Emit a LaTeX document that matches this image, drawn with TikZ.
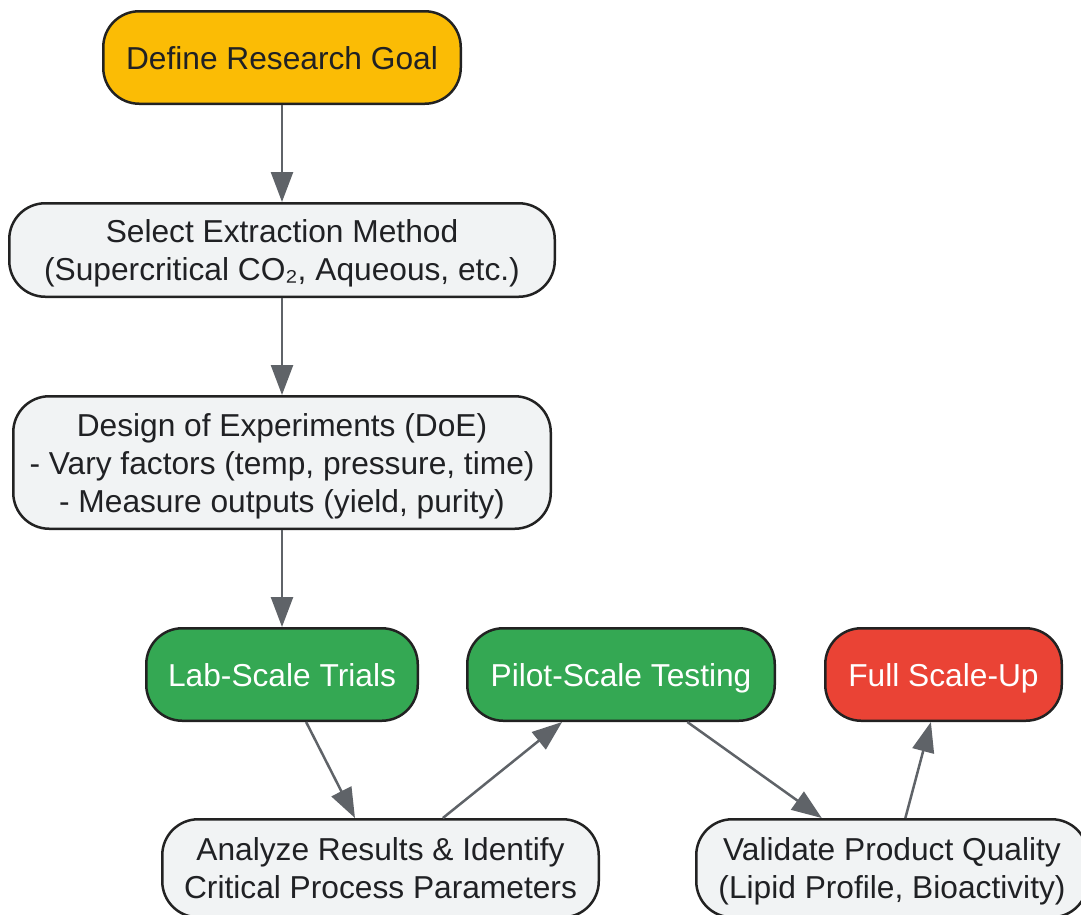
\documentclass[tikz,border=0pt]{standalone}
\usepackage{fontspec}
\setmainfont{Liberation Sans}
\usetikzlibrary{arrows.meta,positioning}
\definecolor{goalyellow}{HTML}{FBBC05}
\definecolor{stepgray}{HTML}{F1F3F4}
\definecolor{trialgreen}{HTML}{34A853}
\definecolor{scalered}{HTML}{EA4335}
\definecolor{textdark}{HTML}{202124}
\definecolor{edgegray}{HTML}{5F6368}
\definecolor{linedark}{HTML}{222222}

\begin{document}
\begin{tikzpicture}[x=1pt,y=1pt,node distance=97pt,
    every node/.style={font=\fontsize{31.7}{38}\selectfont}]
    \tikzstyle{box}=[rectangle, rounded corners=36pt, draw=linedark, line width=2.5pt,
        fill=stepgray, text=textdark, align=center, minimum height=92.5pt, inner sep=0pt]
    \tikzstyle{oneline}=[box, text height=23pt, text depth=0pt]
    \tikzstyle{green}=[oneline, fill=trialgreen, text=white]
    \tikzstyle{flow}=[draw=edgegray, line width=2.5pt, -{Triangle[length=30pt,width=22pt]}]

    \useasboundingbox (0,-914) rectangle (1081,0);

    \node[oneline, fill=goalyellow, minimum width=357.5pt] (goal) at (282,-57.5) {Define Research Goal};
    \node[box, minimum width=545.5pt, minimum height=93.5pt] (method) [below=of goal]
        {\rule{0pt}{30pt}Select Extraction Method\\(Supercritical CO₂, Aqueous, etc.)};
    \node[box, minimum width=537.5pt, minimum height=132.5pt] (doe) [below=of method]
        {\rule{0pt}{31pt}Design of Experiments (DoE)\\- Vary factors (temp, pressure, time)\\- Measure outputs (yield, purity)};
    \node[green, minimum width=271.5pt] (lab) [below=of doe] {Lab-Scale Trials};
    \node[green, minimum width=307.5pt] (pilot) [right=47pt of lab] {Pilot-Scale Testing};
    \node[oneline, fill=scalered, text=white, minimum width=236.5pt] (full) [right=48pt of pilot] {Full Scale-Up};
    \node[box, minimum width=436.5pt, minimum height=98pt] (analyze) [below=96pt of lab, xshift=98.5pt]
        {Analyze Results \& Identify\\Critical Process Parameters};
    \node[box, minimum width=391.5pt, minimum height=98pt] (validate) [below=96pt of full, xshift=-51.5pt]
        {\rule{0pt}{29pt}Validate Product Quality\\(Lipid Profile, Bioactivity)};

    \path[flow] (goal) -- (method);
    \path[flow] (method) -- (doe);
    \path[flow] (doe) -- (lab);
    \path[flow] (lab) -- (analyze);
    \path[flow] (analyze) -- (pilot);
    \path[flow] (pilot) -- (validate);
    \path[flow] (validate) -- (full);

\end{tikzpicture}
\end{document}
